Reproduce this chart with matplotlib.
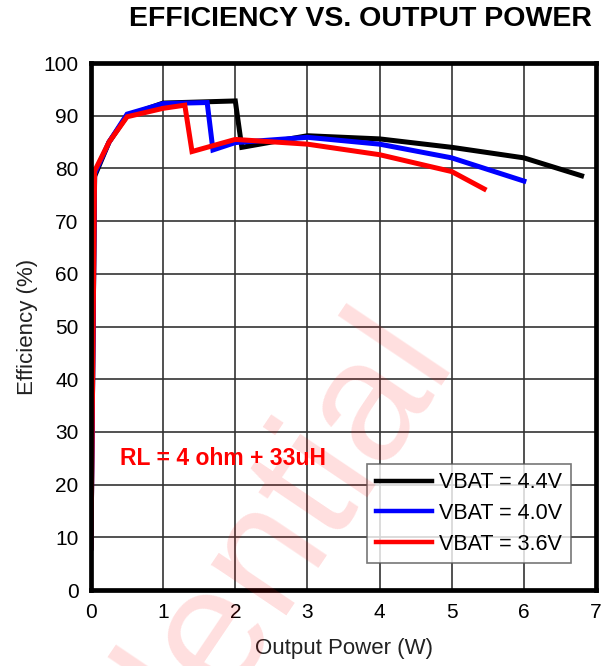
import matplotlib.pyplot as plt

# efficiency curves
black_x = [0.0, 0.05, 0.25, 0.5, 1.0, 2.0, 2.09, 3.0, 4.0, 5.0, 6.0, 6.8]
black_y = [8, 78.5, 85.0, 90.0, 92.4, 92.8, 84.0, 86.2, 85.6, 84.0, 82.0, 78.6]
blue_x = [0.0, 0.05, 0.25, 0.5, 1.0, 1.61, 1.69, 2.0, 3.0, 4.0, 5.0, 6.0]
blue_y = [8, 79.0, 85.0, 90.3, 92.3, 92.5, 83.5, 84.9, 85.9, 84.6, 82.0, 77.6]
red_x = [0.0, 0.05, 0.25, 0.5, 1.0, 1.3, 1.4, 2.0, 3.0, 4.0, 5.0, 5.45]
red_y = [8, 79.5, 85.0, 89.8, 91.4, 92.0, 83.2, 85.5, 84.6, 82.6, 79.4, 76.1]

series_labels = ["VBAT = 4.4V", "VBAT = 4.0V", "VBAT = 3.6V"]
series_colors = ["black", "#0000ff", "#ff0000"]
x_ticks = [0, 1, 2, 3, 4, 5, 6, 7]
y_ticks = [0, 10, 20, 30, 40, 50, 60, 70, 80, 90, 100]

plt.rcParams["font.family"] = ["Liberation Sans", "DejaVu Sans"]

fig = plt.figure(figsize=(6.08, 6.66), dpi=100)
ax = fig.add_axes([0.1497, 0.1141, 0.8306, 0.7913])

for xs, ys, lab, col in zip([black_x, blue_x, red_x], [black_y, blue_y, red_y],
                            series_labels, series_colors):
    ax.plot(xs, ys, color=col, lw=3.6, label=lab, solid_joinstyle="miter", zorder=3)

ax.set_xlim(0, 7)
ax.set_ylim(0, 100)
ax.set_xticks(x_ticks)
ax.set_yticks(y_ticks)
ax.tick_params(length=0, labelsize=15, pad=9)
ax.grid(True, color="#333333", lw=1.2)
ax.set_axisbelow(True)
for sp in ax.spines.values():
    sp.set_linewidth(3.4)
    sp.set_zorder(4)

ax.set_xlabel("Output Power (W)", fontsize=16, color="#222222", labelpad=12)
ax.set_ylabel("Efficiency (%)", fontsize=16, color="#222222", labelpad=4)

ax.text(0.4, 25, "RL = 4 ohm + 33uH", color="#ff0000", fontsize=16.5,
        fontweight="bold", va="center", ha="left", zorder=5)

leg = ax.legend(loc="lower right", bbox_to_anchor=(0.95, 0.051), borderaxespad=0,
                fontsize=15.5, frameon=True, fancybox=False, handlelength=2.6,
                handletextpad=0.35, labelspacing=0.45, borderpad=0.4)
leg.get_frame().set_edgecolor("#555555")
leg.get_frame().set_linewidth(1.2)
for line in leg.get_lines():
    line.set_linewidth(3.2)

fig.text(0.974, 0.972, "EFFICIENCY VS. OUTPUT POWER", fontsize=20.5,
         fontweight="bold", ha="right", va="center")

# faded watermark
fig.text(0.745, 0.467, "Confidential", fontsize=124, color="#ff0000", alpha=0.13,
         rotation=56, rotation_mode="anchor", ha="right", va="baseline", zorder=0)

fig.savefig("out.png", dpi=100)
